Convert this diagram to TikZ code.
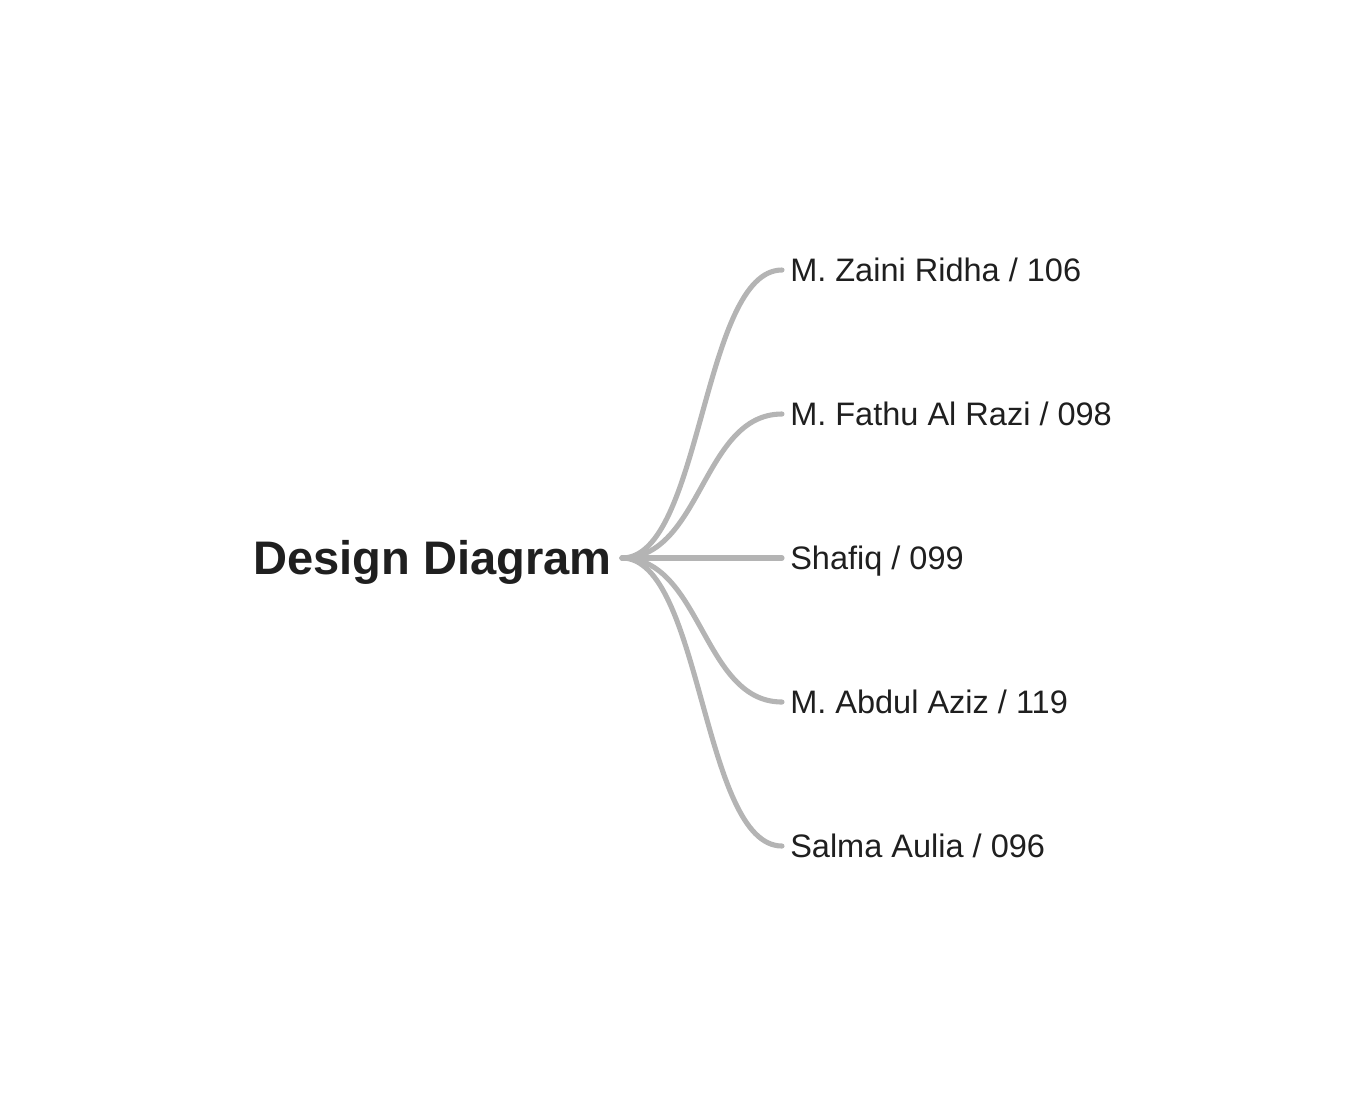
\documentclass[tikz,border=0pt]{standalone}
\usepackage{fontspec}
\setmainfont{Liberation Sans}
\usetikzlibrary{positioning}
\definecolor{MapInk}{HTML}{1F1F1F}
\definecolor{MapLink}{HTML}{B4B4B4}

\begin{document}
\begin{tikzpicture}[x=0.02cm,y=-0.02cm,
  topic/.style={font=\fontsize{26.8}{30}\selectfont\bfseries,text=MapInk,anchor=east,inner xsep=5.7pt,inner ysep=0pt,text height=19.2pt,text depth=0pt},
  member/.style={font=\fontsize{18.5}{22}\selectfont,text=MapInk,anchor=west,inner xsep=4.5pt,inner ysep=0pt,text height=13.25pt,text depth=0pt},
  link/.style={MapLink,line width=2.9pt,line cap=round},
]
\useasboundingbox (0,0) rectangle (1372,1117);
\node[topic] (root) at (622,558) {Design Diagram};
\node[member] (zaini) at (782,270) {M. Zaini Ridha / 106};
\node[member] (fathu) at (782,414) {M. Fathu Al Razi / 098};
\node[member] (shafiq) at (782,558) {Shafiq / 099};
\node[member] (aziz) at (782,702) {M. Abdul Aziz / 119};
\node[member] (salma) at (782,846) {Salma Aulia / 096};
\draw[link] (root.east) .. controls +(80,0) and +(-80,0) .. (zaini.west);
\draw[link] (root.east) .. controls +(80,0) and +(-80,0) .. (fathu.west);
\draw[link] (root.east) .. controls +(80,0) and +(-80,0) .. (shafiq.west);
\draw[link] (root.east) .. controls +(80,0) and +(-80,0) .. (aziz.west);
\draw[link] (root.east) .. controls +(80,0) and +(-80,0) .. (salma.west);
\end{tikzpicture}
\end{document}
